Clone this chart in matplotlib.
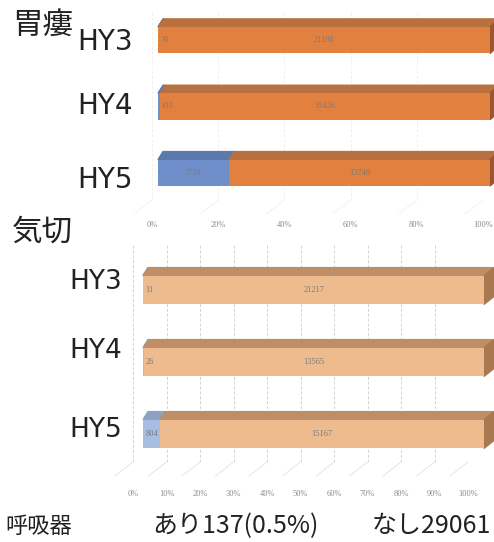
import numpy as np
import matplotlib
matplotlib.use('Agg')
import matplotlib.pyplot as plt
from matplotlib.patches import Polygon

plt.rcParams['font.family'] = ['Noto Sans CJK JP', 'DejaVu Sans']

rows = ['HY3', 'HY4', 'HY5']
# 胃瘻 あり / なし
peg_yes = [30, 103, 3728]
peg_no = [21198, 15426, 13748]
# 気切 あり / なし
trach_yes = [11, 26, 804]
trach_no = [21217, 13565, 15167]

top_ticks = [0, 20, 40, 60, 80, 100]
bottom_ticks = [0, 10, 20, 30, 40, 50, 60, 70, 80, 90, 100]

W, H = 494, 542
fig = plt.figure(figsize=(W / 100, H / 100), dpi=100)


def box(x0, y0, x1, y1):
    # pixel box measured from the top-left corner -> figure rect
    return [x0 / W, 1 - y1 / H, (x1 - x0) / W, (y1 - y0) / H]


def wall(rect, ticks, pad, grid_col, floor_col):
    axw = fig.add_axes(rect, zorder=0)
    axw.set_xlim(0, 100)
    axw.set_ylim(0, 1)
    for s in axw.spines.values():
        s.set_visible(False)
    axw.set_yticks([])
    axw.set_xticks(ticks)
    axw.set_xticklabels([f'{t}%' for t in ticks], family='Liberation Serif',
                        fontsize=6, color='#8a8a8a')
    axw.tick_params(axis='x', length=0, pad=pad)
    axw.vlines(ticks, 0, 1, colors=grid_col, linestyles=(0, (3, 2)), lw=0.7)
    # floor lines running forward from the back wall
    xpp = 100 / (rect[2] * W)
    ypp = 1 / (rect[3] * H)
    for t in ticks:
        axw.plot([t, t - 18 * xpp], [0, -14 * ypp], color=floor_col, lw=0.6,
                 clip_on=False)
    return axw


def bars3d(rect, yes, no, front, top, side, dxl, dxr, dy, bar_h):
    ax = fig.add_axes(rect, zorder=2)
    ax.set_xlim(0, 100)
    ax.set_ylim(len(rows) - 0.5, -0.5)
    ax.axis('off')
    xpp = 100 / (rect[2] * W)
    ypp = len(rows) / (rect[3] * H)

    def dx(x):
        return (dxl + (dxr - dxl) * x / 100) * xpp

    for i, (a, b) in enumerate(zip(yes, no)):
        p = 100 * a / (a + b)
        segs = [(0, p, a, 0), (p, 100, b, 1)]
        yt = i - bar_h / 2
        for l, r, v, k in segs:
            ax.barh(i, r - l, left=l, height=bar_h, color=front[k], zorder=3)
            ax.add_patch(Polygon([(l, yt), (r, yt), (r + dx(r), yt - dy * ypp),
                                  (l + dx(l), yt - dy * ypp)],
                                 closed=True, color=top[k], zorder=2,
                                 clip_on=False))
            if r - l < 3:
                ax.text(l + 0.8, i, str(v), ha='left', va='center',
                        fontsize=6, color='#7a7a7a', family='Liberation Serif',
                        zorder=4)
            else:
                ax.text((l + r) / 2, i, str(v), ha='center', va='center',
                        fontsize=6, color='#7a7a7a', family='Liberation Serif',
                        zorder=4)
        yb = i + bar_h / 2
        ax.add_patch(Polygon([(100, yt), (100, yb), (100 + dx(100), yb - dy * ypp),
                              (100 + dx(100), yt - dy * ypp)],
                             closed=True, color=side, zorder=2, clip_on=False))
    return ax


# 胃瘻
wall(box(152, 10, 483, 200), top_ticks, 15, '#efefef', '#f0f0f0')
bars3d(box(158, 7, 490, 206), peg_yes, peg_no,
       front=['#6f8fca', '#e2803f'], top=['#5b79ad', '#b8703f'],
       side='#9a5630', dxl=5, dxr=9, dy=8, bar_h=0.4)

# 気切
wall(box(133, 245, 468, 462), bottom_ticks, 20, '#d2d2d2', '#e2e2e2')
bars3d(box(143, 254, 484, 470), trach_yes, trach_no,
       front=['#a8bde2', '#edbb8d'], top=['#8ea2c6', '#bf8e66'],
       side='#a8784f', dxl=5, dxr=10, dy=8, bar_h=0.4)

# row labels
for name, y in zip(rows, [42, 106, 180]):
    fig.text(133 / W, 1 - y / H, name, ha='right', va='center', fontsize=20,
             family='DejaVu Sans', color='#222222')
for name, y in zip(rows, [282, 351, 430]):
    fig.text(122 / W, 1 - y / H, name, ha='right', va='center', fontsize=19,
             family='DejaVu Sans', color='#222222')

fig.text(12 / W, 1 - 25 / H, '胃瘻', ha='left', va='center', fontsize=22,
         color='#222222')
fig.text(12 / W, 1 - 232 / H, '気切', ha='left', va='center', fontsize=22,
         color='#222222')

fig.text(5 / W, 1 - 526 / H, '呼吸器', ha='left', va='center', fontsize=16,
         color='#222222')
fig.text(152 / W, 1 - 526 / H, 'あり137(0.5%)', ha='left', va='center',
         fontsize=18, color='#222222')
fig.text(372 / W, 1 - 526 / H, 'なし29061', ha='left', va='center',
         fontsize=18, color='#222222')

fig.savefig('out.png', dpi=100)
